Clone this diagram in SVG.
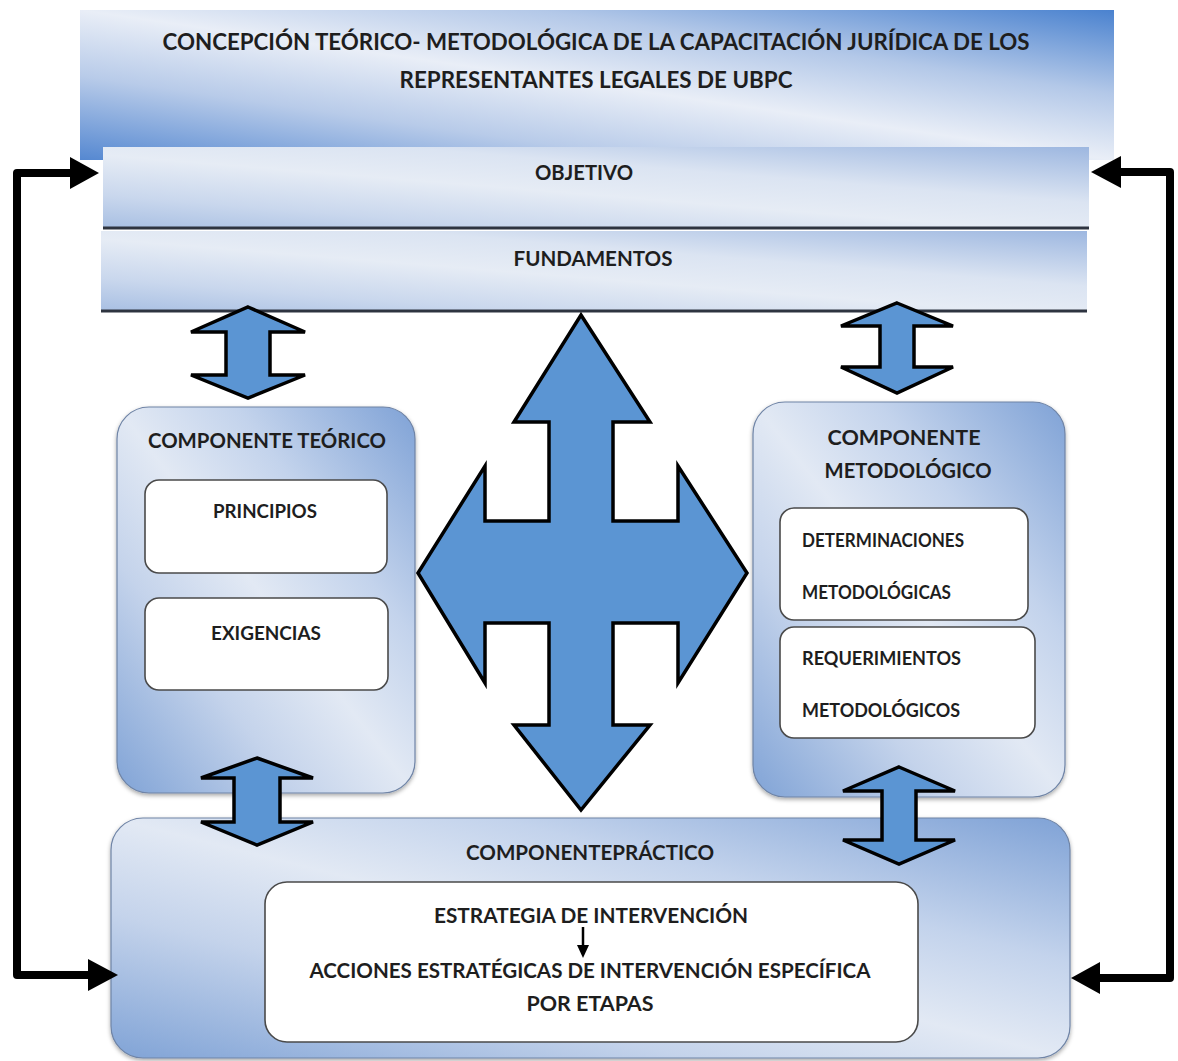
<svg xmlns="http://www.w3.org/2000/svg" width="1178" height="1061" viewBox="0 0 1178 1061">
<defs>
<linearGradient id="gTitle" x1="1" y1="0" x2="0" y2="1">
<stop offset="0" stop-color="#4a82cf"/>
<stop offset="0.28" stop-color="#b3c8e8"/>
<stop offset="0.5" stop-color="#e9eef7"/>
<stop offset="0.72" stop-color="#b8cbe9"/>
<stop offset="1" stop-color="#5588d1"/>
</linearGradient>
<linearGradient id="gBand" x1="1" y1="0" x2="0" y2="1">
<stop offset="0" stop-color="#9db7e0"/>
<stop offset="0.35" stop-color="#dbe4f2"/>
<stop offset="0.55" stop-color="#e6ecf5"/>
<stop offset="0.8" stop-color="#c9d7ed"/>
<stop offset="1" stop-color="#a9c0e3"/>
</linearGradient>
<linearGradient id="gComp" x1="1" y1="0" x2="0" y2="1">
<stop offset="0" stop-color="#7fa2d6"/>
<stop offset="0.3" stop-color="#c3d3ec"/>
<stop offset="0.5" stop-color="#e2e9f4"/>
<stop offset="0.7" stop-color="#c4d3eb"/>
<stop offset="1" stop-color="#80a3d6"/>
</linearGradient>
<filter id="sh" x="-5%" y="-5%" width="110%" height="115%">
<feDropShadow dx="0" dy="2" stdDeviation="2" flood-color="#000" flood-opacity="0.35"/>
</filter>
</defs>
<style>
text{font-family:Lato,"Open Sans","Liberation Sans",sans-serif;font-weight:700;fill:#1e1e1e;}
.t21{font-size:22px;}
.t19{font-size:20px;}
.t18{font-size:19px;}
.comp{fill:url(#gComp);stroke:#6f84a6;stroke-width:1.2;}
.inner{fill:#ffffff;stroke:#4a4a4a;stroke-width:1.6;}
.blue{fill:#5b95d3;stroke:#000;stroke-width:3.5;stroke-linejoin:miter;}
.fb{fill:none;stroke:#000;stroke-width:8;stroke-linejoin:round;}
.head{fill:#000;}
</style>

<g id="title">
<rect x="80" y="10" width="1034" height="150" fill="url(#gTitle)"/>
<text class="t21" x="596" y="50" text-anchor="middle" textLength="867" lengthAdjust="spacingAndGlyphs">CONCEPCIÓN TEÓRICO- METODOLÓGICA DE LA CAPACITACIÓN JURÍDICA DE LOS</text>
<text class="t21" x="596" y="88" text-anchor="middle" textLength="393" lengthAdjust="spacingAndGlyphs">REPRESENTANTES LEGALES DE UBPC</text>
</g>

<g id="objetivo">
<rect x="103" y="147" width="986" height="80" fill="url(#gBand)"/>
<line x1="103" y1="228" x2="1089" y2="228" stroke="#2e3440" stroke-width="3"/>
<text class="t19" x="584" y="180" text-anchor="middle" textLength="98" lengthAdjust="spacingAndGlyphs">OBJETIVO</text>
</g>

<g id="fundamentos">
<rect x="101" y="231" width="986" height="79" fill="url(#gBand)"/>
<line x1="101" y1="311" x2="1087" y2="311" stroke="#2e3440" stroke-width="3"/>
<text class="t19" x="593" y="266" text-anchor="middle" textLength="159" lengthAdjust="spacingAndGlyphs">FUNDAMENTOS</text>
</g>

<g id="componente-teorico">
<rect class="comp" x="117" y="407" width="298" height="386" rx="32" filter="url(#sh)"/>
<text class="t19" x="267" y="448" text-anchor="middle" textLength="238" lengthAdjust="spacingAndGlyphs">COMPONENTE TEÓRICO</text>
</g>
<g id="principios">
<rect class="inner" x="145" y="480" width="242" height="93" rx="14"/>
<text class="t18" x="265" y="518" text-anchor="middle" textLength="104" lengthAdjust="spacingAndGlyphs">PRINCIPIOS</text>
</g>
<g id="exigencias">
<rect class="inner" x="145" y="598" width="243" height="92" rx="14"/>
<text class="t18" x="266" y="640" text-anchor="middle" textLength="110" lengthAdjust="spacingAndGlyphs">EXIGENCIAS</text>
</g>

<g id="componente-metodologico">
<rect class="comp" x="753" y="402" width="312" height="395" rx="32" filter="url(#sh)"/>
<text class="t19" x="904" y="445" text-anchor="middle" textLength="153" lengthAdjust="spacingAndGlyphs">COMPONENTE</text>
<text class="t19" x="908" y="478" text-anchor="middle" textLength="167" lengthAdjust="spacingAndGlyphs">METODOLÓGICO</text>
</g>
<g id="determinaciones">
<rect class="inner" x="780" y="508" width="248" height="112" rx="14"/>
<text class="t18" x="802" y="547" textLength="162" lengthAdjust="spacingAndGlyphs">DETERMINACIONES</text>
<text class="t18" x="802" y="599" textLength="149" lengthAdjust="spacingAndGlyphs">METODOLÓGICAS</text>
</g>
<g id="requerimientos">
<rect class="inner" x="780" y="627" width="255" height="111" rx="14"/>
<text class="t18" x="802" y="665" textLength="159" lengthAdjust="spacingAndGlyphs">REQUERIMIENTOS</text>
<text class="t18" x="802" y="717" textLength="158" lengthAdjust="spacingAndGlyphs">METODOLÓGICOS</text>
</g>

<g id="componente-practico">
<rect class="comp" x="111" y="818" width="959" height="240" rx="32" filter="url(#sh)"/>
<text class="t19" x="590" y="860" text-anchor="middle" textLength="248" lengthAdjust="spacingAndGlyphs">COMPONENTEPRÁCTICO</text>
</g>
<g id="estrategia">
<rect class="inner" x="265" y="882" width="653" height="160" rx="22"/>
<text class="t19" x="591" y="923" text-anchor="middle" textLength="314" lengthAdjust="spacingAndGlyphs">ESTRATEGIA DE INTERVENCIÓN</text>
<line x1="583" y1="927" x2="583" y2="947" stroke="#000" stroke-width="2.5"/>
<polygon points="577,945 589,945 583,958" fill="#000"/>
<text class="t19" x="590" y="978" text-anchor="middle" textLength="561" lengthAdjust="spacingAndGlyphs">ACCIONES ESTRATÉGICAS DE INTERVENCIÓN ESPECÍFICA</text>
<text class="t19" x="590" y="1011" text-anchor="middle" textLength="127" lengthAdjust="spacingAndGlyphs">POR ETAPAS</text>
</g>

<g id="connectors">
<path class="fb" d="M 74 173 H 17 V 975 H 92"/>
<polygon class="head" points="70,157 99,173 70,189"/>
<polygon class="head" points="88,959 118,975 88,991"/>
<path class="fb" d="M 1116 172 H 1170 V 978 H 1096"/>
<polygon class="head" points="1121,156 1091,172 1121,188"/>
<polygon class="head" points="1100,962 1071,978 1100,994"/>
<polygon class="blue" points="248,307 305,332 270,332 270,375 305,375 248,398 191,375 226,375 226,332 191,332"/>
<polygon class="blue" points="897,303 953,326 914,326 914,367 953,367 897,393 841,367 880,367 880,326 841,326"/>
<polygon class="blue" points="257,758 313,778 280,778 280,822 313,822 257,845 201,822 234,822 234,778 201,778"/>
<polygon class="blue" points="899,767 955,791 916,791 916,840 955,840 899,864 843,840 882,840 882,791 843,791"/>
<polygon class="blue" points="581,315 650,422 613,422 613,521 678,521 678,466 747,573 678,683 678,623 613,623 613,725 650,725 581,810 514,725 549,725 549,623 485,623 485,683 418,573 485,466 485,521 549,521 549,422 514,422"/>
</g>
</svg>
